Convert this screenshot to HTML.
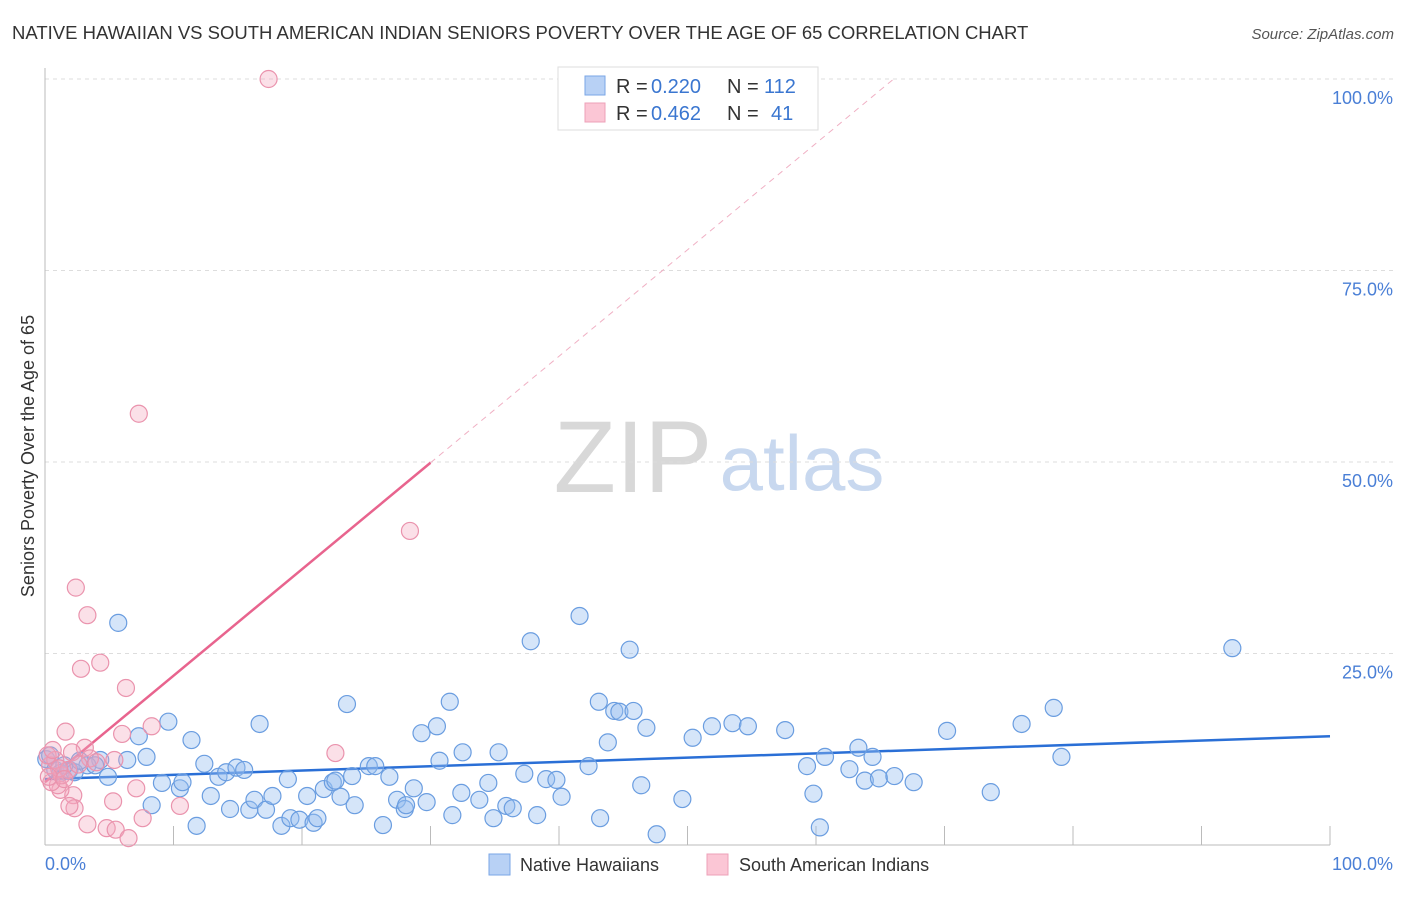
<!DOCTYPE html>
<html><head><meta charset="utf-8"><style>
body{margin:0;background:#fff;font-family:"Liberation Sans",sans-serif}
svg text{font-family:"Liberation Sans",sans-serif}
</style></head><body>
<svg id="chart" width="1406" height="892" viewBox="0 0 1406 892" xmlns="http://www.w3.org/2000/svg">
<text x="12" y="39" font-size="18.5" fill="#333">NATIVE HAWAIIAN VS SOUTH AMERICAN INDIAN SENIORS POVERTY OVER THE AGE OF 65 CORRELATION CHART</text>
<text x="1394" y="39" font-size="15" fill="#555" text-anchor="end" font-style="italic">Source: ZipAtlas.com</text>
<g>
<text x="633" y="492" font-size="102" fill="#d8d8d8" font-family="Liberation Serif" text-anchor="middle">ZIP</text>
<text x="802" y="490" font-size="78" fill="#c8d8ef" text-anchor="middle">atlas</text>
</g>
<g id="grid"></g>
<g id="axes"></g>
<g id="lines"></g>
<g id="pts"></g>
<text transform="translate(34,456) rotate(-90)" font-size="18" fill="#333" text-anchor="middle">Seniors Poverty Over the Age of 65</text>
<text x="45" y="870" font-size="18" fill="#4a7fd6">0.0%</text>
<text x="1393" y="870" font-size="18" fill="#4a7fd6" text-anchor="end">100.0%</text>
<g>
<rect x="558" y="67" width="260" height="63" fill="#fff" stroke="#ddd"/>
<rect x="585" y="76" width="20" height="19" fill="#b8d1f5" stroke="#7aa6e6"/>
<rect x="585" y="103" width="20" height="19" fill="#fbc6d5" stroke="#eea0b8"/>
<text x="616" y="93" font-size="20" fill="#333">R =</text>
<text x="651" y="93" font-size="20" fill="#3a76d0">0.220</text>
<text x="727" y="93" font-size="20" fill="#333">N =</text>
<text x="764" y="93" font-size="20" fill="#3a76d0">112</text>
<text x="616" y="120" font-size="20" fill="#333">R =</text>
<text x="651" y="120" font-size="20" fill="#3a76d0">0.462</text>
<text x="727" y="120" font-size="20" fill="#333">N =</text>
<text x="771" y="120" font-size="20" fill="#3a76d0">41</text>
</g>
<g>
<rect x="489" y="854" width="21" height="21" fill="#b8d1f5" stroke="#7aa6e6"/>
<text x="520" y="871" font-size="18" fill="#333">Native Hawaiians</text>
<rect x="707" y="854" width="21" height="21" fill="#fbc6d5" stroke="#eea0b8"/>
<text x="739" y="871" font-size="18" fill="#333">South American Indians</text>
</g>
</svg>
<script>
const blueX=[5.7,7.3,9.6,11.4,4.9,6.4,7.9,4.3,3.3,8.3,9.1,10.5,10.7,11.8,12.4,12.9,13.5,14.1,14.9,15.5,14.4,15.9,16.3,16.7,17.2,17.7,18.4,18.9,19.1,19.8,20.4,20.9,21.2,21.7,22.4,22.6,23.0,23.5,24.1,23.9,25.2,25.7,26.3,26.8,27.4,28.0,28.1,28.7,29.3,29.7,30.5,30.7,31.5,31.7,32.4,32.5,33.8,34.5,34.9,35.3,35.9,36.4,37.3,37.8,38.3,39.0,39.8,40.2,41.6,42.3,43.1,43.2,43.8,44.3,44.7,45.8,45.5,46.4,46.8,47.6,49.6,50.4,51.9,53.5,54.7,57.6,59.3,59.8,60.3,60.7,62.6,63.3,63.8,64.4,64.9,66.1,67.6,70.2,73.6,76.0,78.5,79.1,92.4,0.1,0.8,1.2,1.9,2.3,0.4,1.5,2.7,3.9];
const blueY=[29.0,14.2,16.1,13.7,8.9,11.1,11.5,11.1,10.4,5.2,8.1,7.4,8.2,2.5,10.6,6.4,8.9,9.5,10.1,9.8,4.7,4.6,5.9,15.8,4.6,6.4,2.5,8.6,3.5,3.3,6.4,2.9,3.5,7.3,8.2,8.4,6.3,18.4,5.2,9.0,10.3,10.3,2.6,8.9,5.9,4.7,5.2,7.4,14.6,5.6,15.5,11.0,18.7,3.9,6.8,12.1,5.9,8.1,3.5,12.1,5.1,4.8,9.3,26.6,3.9,8.6,8.5,6.3,29.9,10.3,18.7,3.5,13.4,17.5,17.4,17.5,25.5,7.8,15.3,1.4,6.0,14.0,15.5,15.9,15.5,15.0,10.3,6.7,2.3,11.5,9.9,12.7,8.4,11.5,8.7,9.0,8.2,14.9,6.9,15.8,17.9,11.5,25.7,11.2,9.8,9.4,9.8,9.5,11.7,10.4,11.0,10.4];
const pinkX=[17.4,7.3,28.4,2.4,3.3,2.8,4.3,6.3,8.3,6.0,1.6,22.6,3.1,2.1,7.1,5.3,7.6,10.5,2.2,2.3,1.9,3.3,4.8,5.5,6.5,1.2,1.0,0.5,0.4,0.8,1.3,1.8,0.2,3.5,4.0,5.4,0.6,1.1,2.6,0.3,1.5];
const pinkY=[100,56.3,41.0,33.6,30.0,23.0,23.8,20.5,15.5,14.5,14.8,12.0,12.7,12.1,7.4,5.7,3.5,5.1,6.5,4.8,5.1,2.7,2.2,2.0,0.9,7.2,7.8,8.2,10.4,11.1,9.1,9.8,11.7,11.3,10.8,11.1,12.4,10.0,10.5,8.9,8.6];
const blueTrend=[8.6,14.2];
const pinkTrend=[8.2,1.39];
const yTicks=[25,50,75,100];
const yTickLabels=["25.0%","50.0%","75.0%","100.0%"];
const xTicks=[0,10,20,30,40,50,60,70,80,90,100];
const NS="http://www.w3.org/2000/svg";
const sx=v=>45+v*12.85, sy=v=>845-v*7.66;
function mk(tag,attrs,parent){const e=document.createElementNS(NS,tag);for(const k in attrs)e.setAttribute(k,attrs[k]);document.getElementById(parent).appendChild(e);return e;}
yTicks.forEach((t,i)=>{
 const g=mk('line',{x1:45,x2:1393,y1:sy(t),y2:sy(t),stroke:'#ddd','stroke-dasharray':'4,4'},'grid');
 
 
 const l=mk('text',{x:1393,y:sy(t)+25,'font-size':18,fill:'#4a7fd6','text-anchor':'end'},'grid');
 l.textContent=yTickLabels[i];
 
 
});
const ax=mk('line',{x1:45,x2:45,y1:68,y2:845,stroke:'#bbb'},'axes');


const bx=mk('line',{x1:45,x2:1330,y1:845,y2:845,stroke:'#bbb'},'axes');


xTicks.forEach(t=>{
 const k=mk('line',{x1:sx(t),x2:sx(t),y1:t==0?845:826,y2:845,stroke:'#bbb'},'axes');
 
 
});
blueX.forEach((x,i)=>{
 const c=mk('circle',{cx:sx(x),cy:sy(blueY[i]),r:8.5,fill:'rgba(150,190,240,0.4)',stroke:'#6a9de0','stroke-width':1.2},'pts');
 
 
});
pinkX.forEach((x,i)=>{
 const c=mk('circle',{cx:sx(x),cy:sy(pinkY[i]),r:8.5,fill:'rgba(244,165,190,0.35)',stroke:'#ea93ad','stroke-width':1.2},'pts');
 
 
});
const bl=mk('line',{x1:sx(0),y1:sy(blueTrend[0]),x2:sx(100),y2:sy(blueTrend[1]),stroke:'#2a6fd6','stroke-width':2.5},'lines');


const pEnd=(100-pinkTrend[0])/pinkTrend[1];
const pd=mk('line',{x1:sx(30),y1:sy(pinkTrend[0]+30*pinkTrend[1]),x2:sx(pEnd),y2:sy(100),stroke:'#f0b0c4','stroke-width':1,'stroke-dasharray':'6,5'},'lines');


const pl=mk('line',{x1:sx(0),y1:sy(pinkTrend[0]),x2:sx(30),y2:sy(pinkTrend[0]+30*pinkTrend[1]),stroke:'#e8648e','stroke-width':2.5},'lines');


</script>
</body></html>
